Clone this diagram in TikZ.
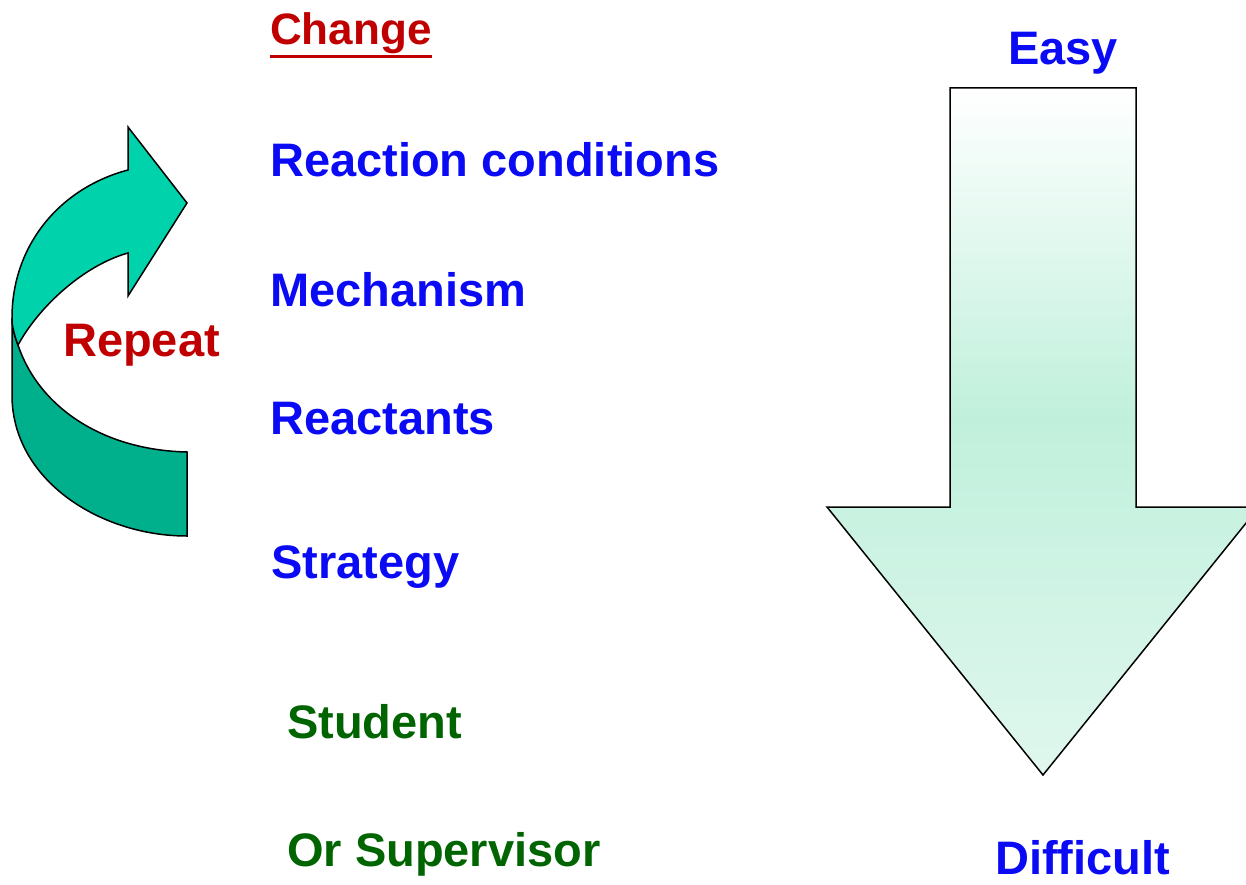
\documentclass[tikz,border=0pt]{standalone}
\usepackage{fontspec}
\setmainfont{Liberation Sans}
\usetikzlibrary{calc}
\definecolor{tblue}{HTML}{0A0AF5}
\definecolor{tred}{HTML}{C00000}
\definecolor{tgreen}{HTML}{006400}
\definecolor{lighttl}{HTML}{00D3AB}
\definecolor{darktl}{HTML}{00B08C}
\definecolor{mintmid}{HTML}{C0F0DC}
\definecolor{mintbot}{HTML}{E0F7EE}
\pgfdeclareverticalshading{downshade}{100bp}{color(0bp)=(mintbot); color(25bp)=(mintbot); color(51bp)=(mintmid); color(75bp)=(white); color(100bp)=(white)}
\tikzset{
  lbl/.style={anchor=base west, inner sep=0pt, font=\fontsize{47}{50}\selectfont\bfseries},
  bluelbl/.style={lbl, text=tblue},
  greenlbl/.style={lbl, text=tgreen},
  redlbl/.style={lbl, text=tred},
  outline/.style={draw=black, line width=1.5pt, line join=miter}
}
\begin{document}
\begin{tikzpicture}[x=1pt,y=-1pt]
\useasboundingbox (0,0) rectangle (1246,885);
% down arrow
\path[outline, shading=downshade]
  (950,88) -- (1136,88) -- (1136,507) -- (1259,507) -- (1043,775) -- (827,507) -- (950,507) -- cycle;
% curved arrow: lower (back) band
\path[outline, fill=darktl]
  (12,318) -- (12,395) .. controls (12,480) and (100,536) .. (187,536)
  -- (187,452) .. controls (100,450) and (38,405) .. (18,345)
  .. controls (15,337) and (13,330) .. (12,322) -- cycle;
% curved arrow: upper (front) band with head
\path[outline, fill=lighttl]
  (128,170) .. controls (60,188) and (12,245) .. (12,318)
  -- (12,322) .. controls (13,330) and (15,337) .. (18,345)
  .. controls (40,305) and (85,265) .. (128,253)
  -- (128,296) -- (187,203) -- (128,127) -- cycle;
% labels
\node[redlbl, font=\fontsize{44}{48}\selectfont\bfseries] (change) at (270,45) {Change};
\draw[tred, line width=3pt] ($(change.base west)+(0,12)$) -- ($(change.base east)+(0,12)$);
\node[bluelbl] (rc) at (270,177) {Reaction conditions};
\node[bluelbl] (mech) at (270,306) {Mechanism};
\node[bluelbl] (react) at (270,434) {Reactants};
\node[bluelbl] (strat) at (271,578) {Strategy};
\node[greenlbl] (stud) at (287,738) {Student};
\node[greenlbl] (sup) at (287,866) {Or Supervisor};
\node[redlbl] (rep) at (63,356) {Repeat};
\node[bluelbl] (easy) at (1008,65) {Easy};
\node[bluelbl] (diff) at (995,874) {Difficult};
\end{tikzpicture}
\end{document}
